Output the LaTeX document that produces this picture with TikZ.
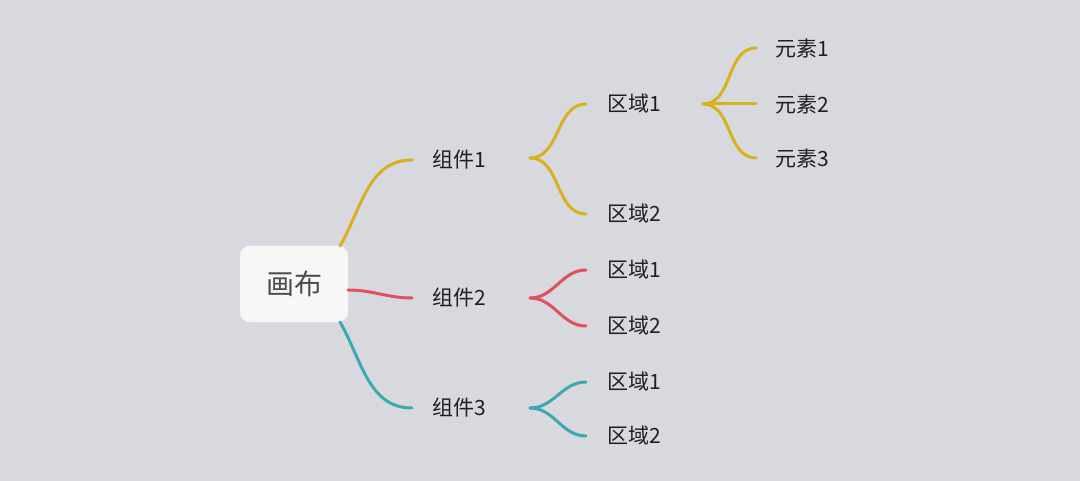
\documentclass[tikz,border=0pt]{standalone}
\usepackage{fontspec}
\setmainfont{Noto Sans CJK SC}
\definecolor{bgc}{HTML}{D8D9DE}
\definecolor{yel}{HTML}{D9B01E}
\definecolor{redc}{HTML}{E0505E}
\definecolor{tea}{HTML}{3AAAB0}
\begin{document}
\begin{tikzpicture}[x=1pt,y=-1pt,
  item/.style = {anchor=west, inner sep=0pt, font=\fontsize{21}{21}\selectfont, text=black!88},
  link/.style = {line width=3pt, line cap=round}]

\fill[bgc] (0,0) rectangle (1080,481);
\useasboundingbox (0,0) rectangle (1080,481);

\node[draw=white!90!gray, fill=white!94!gray, rounded corners=10pt, minimum width=108pt, minimum height=76pt,
  font=\fontsize{28}{28}\selectfont, text=black!70] (canvas) at (294,284) {画布};

\node[item] (C1) at (432,160) {组件1};
\node[item] (C2) at (432,298) {组件2};
\node[item] (C3) at (432,408) {组件3};

\node[item] (R11) at (607,104) {区域1};
\node[item] (R12) at (607,214) {区域2};
\node[item] (R21) at (607,270) {区域1};
\node[item] (R22) at (607,326) {区域2};
\node[item] (R31) at (607,382) {区域1};
\node[item] (R32) at (607,436) {区域2};

\node[item] (E1) at (775,48) {元素1};
\node[item] (E2) at (775,104) {元素2};
\node[item] (E3) at (775,158) {元素3};

\coordinate (c1s) at (340,246);
\coordinate (c2s) at (348,290);
\coordinate (c3s) at (340,322);

% canvas to components
\draw[link, yel] (c1s) to[out=60,in=180] ([xshift=-20pt]C1.west);
\draw[link, redc] (c2s) to[out=0,in=180] ([xshift=-20pt]C2.west);
\draw[link, tea] (c3s) to[out=-60,in=180] ([xshift=-20pt]C3.west);

% components to areas
\coordinate (j1) at (530,158);
\coordinate (j2) at (530,298);
\coordinate (j3) at (530,408);
\draw[link, yel] (j1) to[out=0,in=180] ([xshift=-21pt]R11.west);
\draw[link, yel] (j1) to[out=0,in=180] ([xshift=-21pt]R12.west);
\draw[link, redc] (j2) to[out=0,in=180] ([xshift=-21pt]R21.west);
\draw[link, redc] (j2) to[out=0,in=180] ([xshift=-21pt]R22.west);
\draw[link, tea] (j3) to[out=0,in=180] ([xshift=-21pt]R31.west);
\draw[link, tea] (j3) to[out=0,in=180] ([xshift=-21pt]R32.west);

% area to elements
\coordinate (j4) at (703,104);
\foreach \e in {E1,E2,E3}
  \draw[link, yel] (j4) to[out=0,in=180] ([xshift=-19pt]\e.west);

\end{tikzpicture}
\end{document}
